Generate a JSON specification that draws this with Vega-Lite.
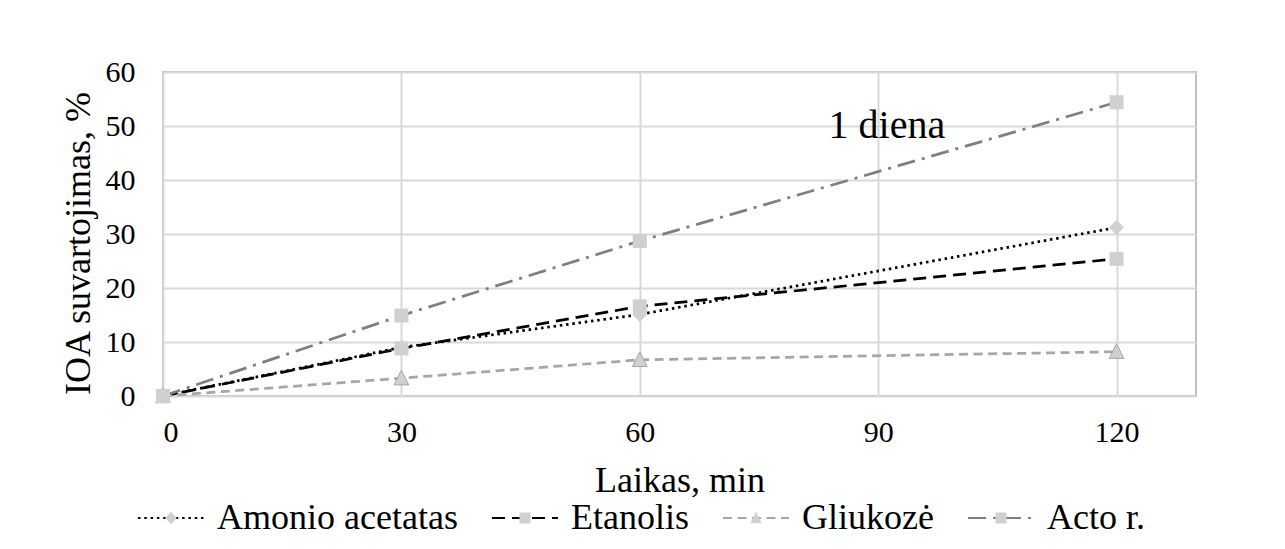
{
  "$schema": "https://vega.github.io/schema/vega-lite/v6.json",
  "width": 1033,
  "height": 324,
  "autosize": {"type": "none"},
  "padding": {"left": 163, "top": 72, "right": 89, "bottom": 153},
  "background": "white",
  "config": {
    "font": "Liberation Serif",
    "view": {"stroke": "#bfbfbf", "strokeWidth": 2},
    "axis": {
      "domain": false,
      "ticks": false,
      "tickSize": 0,
      "grid": true,
      "gridColor": "#d9d9d9",
      "gridWidth": 2,
      "labelFont": "Liberation Serif",
      "labelFontSize": 30,
      "labelColor": "#000000",
      "titleFont": "Liberation Serif",
      "titleFontSize": 36,
      "titleFontWeight": "normal",
      "titleColor": "#000000"
    }
  },
  "datasets": {
    "series": [
      {"series": "Amonio acetatas", "ord": 1, "min": 0, "value": 0},
      {"series": "Amonio acetatas", "ord": 1, "min": 30, "value": 9.0},
      {"series": "Amonio acetatas", "ord": 1, "min": 60, "value": 15.1},
      {"series": "Amonio acetatas", "ord": 1, "min": 120, "value": 31.2},
      {"series": "Etanolis", "ord": 2, "min": 0, "value": 0},
      {"series": "Etanolis", "ord": 2, "min": 30, "value": 8.8},
      {"series": "Etanolis", "ord": 2, "min": 60, "value": 16.6},
      {"series": "Etanolis", "ord": 2, "min": 120, "value": 25.4},
      {"series": "Gliukozė", "ord": 3, "min": 0, "value": 0},
      {"series": "Gliukozė", "ord": 3, "min": 30, "value": 3.3},
      {"series": "Gliukozė", "ord": 3, "min": 60, "value": 6.7},
      {"series": "Gliukozė", "ord": 3, "min": 120, "value": 8.2},
      {"series": "Acto r.", "ord": 4, "min": 0, "value": 0},
      {"series": "Acto r.", "ord": 4, "min": 30, "value": 14.9},
      {"series": "Acto r.", "ord": 4, "min": 60, "value": 28.7},
      {"series": "Acto r.", "ord": 4, "min": 120, "value": 54.4}
    ]
  },
  "data": {"name": "series"},
  "layer": [
    {
      "mark": {"type": "line", "strokeWidth": 2.75, "strokeCap": "butt"},
      "encoding": {
        "x": {
          "field": "min", "type": "quantitative",
          "scale": {"domain": [0, 130], "nice": false, "zero": true},
          "axis": {"values": [0, 30, 60, 90, 120], "labelPadding": 21, "title": "Laikas, min", "titleBaseline": "alphabetic", "titleY": 95, "titleX": 516.5}
        },
        "y": {
          "field": "value", "type": "quantitative",
          "scale": {"domain": [0, 60], "nice": false},
          "axis": {"values": [0, 10, 20, 30, 40, 50, 60], "labelPadding": 28, "title": "IOA suvartojimas, %", "titleAngle": -90, "titleBaseline": "alphabetic", "titleAlign": "center", "titleX": -74, "titleY": 171}
        },
        "stroke": {
          "field": "series", "type": "nominal",
          "scale": {"domain": ["Amonio acetatas", "Etanolis", "Gliukozė", "Acto r."], "range": ["#000000", "#000000", "#a6a6a6", "#7f7f7f"]},
          "legend": {
            "orient": "none", "legendX": -26, "legendY": 412, "title": null, "direction": "horizontal",
            "symbolType": "stroke", "symbolSize": 4356, "symbolStrokeWidth": 2,
            "labelFont": "Liberation Serif", "labelFontSize": 36, "labelColor": "#000000", "labelLimit": 600,
            "labelOffset": 12, "columnPadding": 30, "padding": 0
          }
        },
        "strokeDash": {
          "field": "series", "type": "nominal",
          "scale": {"domain": ["Amonio acetatas", "Etanolis", "Gliukozė", "Acto r."], "range": [[2.5, 3.8], [13, 7], [9, 5.5], [18, 7, 3, 7]]}
        }
      }
    },
    {
      "mark": {"type": "point", "filled": true, "fill": "#d0d0d0", "stroke": "#a6a6a6", "size": 7056, "opacity": 1},
      "encoding": {
        "x": {"field": "min", "type": "quantitative"},
        "y": {"field": "value", "type": "quantitative"},
        "shape": {
          "field": "series", "type": "nominal",
          "sort": {"field": "ord", "op": "min"},
          "scale": {"range": [
            "M-1,0M1,0M0,-0.18L0.18,0L0,0.18L-0.18,0Z",
            "M-1,0M1,0M-0.167,-0.167H0.167V0.167H-0.167Z",
            "M-1,0M1,0M0,-0.19L0.175,0.16H-0.175Z",
            "M-1,0M1,0M-0.167,-0.167H0.167V0.167H-0.167Z"
          ]},
          "legend": {
            "orient": "none", "legendX": -26, "legendY": 412, "title": null, "direction": "horizontal",
            "symbolSize": 4356, "symbolStrokeWidth": 2, "symbolStrokeColor": "transparent", "symbolFillColor": "#d0d0d0",
            "labelFont": "Liberation Serif", "labelFontSize": 36, "labelColor": "#000000", "labelOpacity": 0, "labelLimit": 600,
            "labelOffset": 12, "columnPadding": 30, "padding": 0
          }
        },
        "strokeWidth": {"condition": {"test": "datum.series === 'Gliukozė'", "value": 1}, "value": 0}
      }
    },
    {
      "data": {"values": [{"note": "1 diena"}]},
      "mark": {"type": "text", "font": "Liberation Serif", "fontSize": 40, "align": "center", "baseline": "alphabetic", "color": "#000000"},
      "encoding": {
        "text": {"field": "note", "type": "nominal"},
        "x": {"datum": 91.1, "type": "quantitative"},
        "y": {"datum": 47.8, "type": "quantitative"}
      }
    }
  ]
}
